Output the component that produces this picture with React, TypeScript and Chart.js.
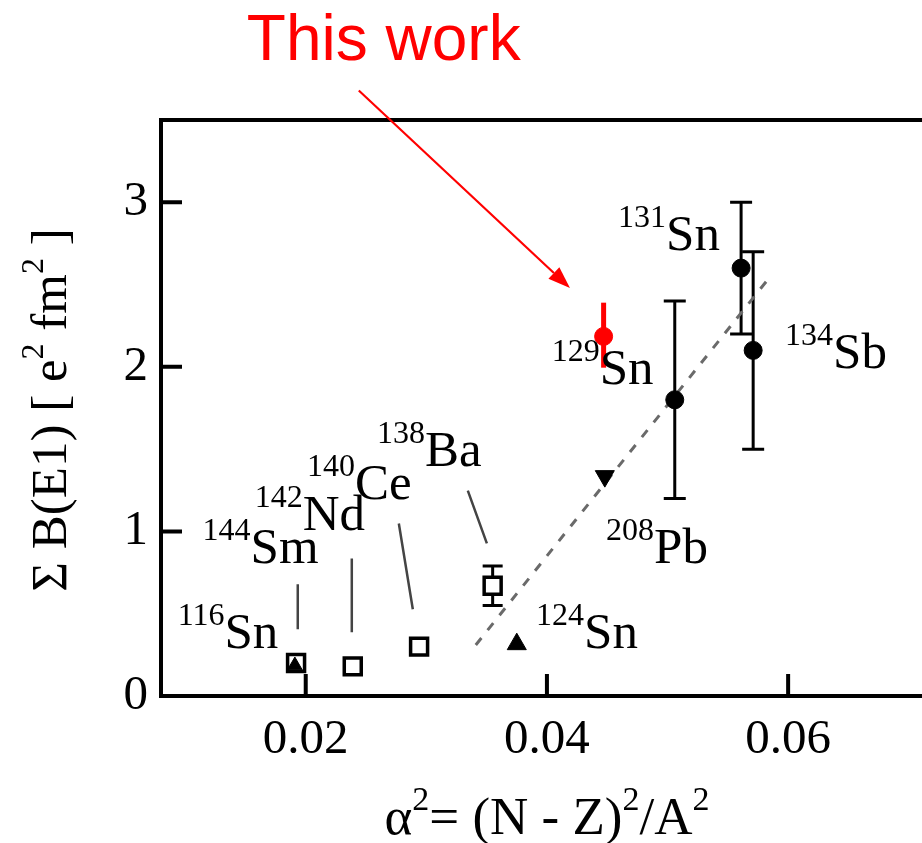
import React, { useEffect, useRef } from "react";
import { Chart, registerables } from "chart.js";

Chart.register(...registerables);

// Axis ranges and tick values
const X_MIN = 0.008;
const X_MAX = 0.0711;
const Y_MIN = 0;
const Y_MAX = 3.5;
const xTickValues = [0.02, 0.04, 0.06];
const yTickValues = [0, 1, 2, 3];

// 129Sn, this work
const thisWorkX = [0.0447];
const thisWorkY = [2.185];
const thisWorkErrUp = [0.205];
const thisWorkErrDown = [0.19];

// Sn / Sb points with error bars
const circleX = [0.0506, 0.0561, 0.0571];
const circleY = [1.8, 2.6, 2.1];
const circleErr = [0.6, 0.4, 0.6];

// N = 82 isotones (open squares)
const squareX = [0.0192, 0.0239, 0.0294, 0.0355];
const squareY = [0.2, 0.18, 0.3, 0.67];
const squareErr = [0, 0, 0, 0.12];

// 116Sn and 124Sn (filled up-triangles)
const upTriX = [0.0191, 0.0375];
const upTriY = [0.185, 0.315];

// 208Pb (filled down-triangle)
const downTriX = [0.0448];
const downTriY = [1.336];

// Linear trend (dashed)
const trendX = [0.0341, 0.0582];
const trendY = [0.31, 2.52];

// Isotope labels: mass number, element, anchor (data units, start of label / main baseline)
const labelMass = ["131", "129", "134", "208", "124", "138", "140", "142", "144", "116"];
const labelElem = ["Sn", "Sn", "Sb", "Pb", "Sn", "Ba", "Ce", "Nd", "Sm", "Sn"];
const labelX = [0.0459, 0.0404, 0.05975, 0.0449, 0.0391, 0.0259, 0.0201, 0.01577, 0.01145, 0.00938];
const labelY = [2.709, 1.897, 1.994, 0.806, 0.291, 1.4, 1.2, 1.006, 0.806, 0.291];

// Leader lines from labels to the square markers
const leaderX1 = [0.01934, 0.02382, 0.02772, 0.03344];
const leaderY1 = [0.679, 0.836, 1.048, 1.248];
const leaderX2 = [0.01934, 0.02382, 0.02888, 0.03502];
const leaderY2 = [0.406, 0.388, 0.527, 0.927];

// "This work" annotation
const noteText = "This work";
const noteX = 0.02647;
const noteY = 3.867;
const arrowFrom = [0.0244, 3.679];
const arrowTo = [0.04191, 2.479];

const SERIF = "'Liberation Serif', 'Times New Roman', serif";
const SANS = "'Liberation Sans', Arial, sans-serif";
const MAIN_FONT = `51px ${SERIF}`;
const SUP_FONT = `32px ${SERIF}`;
const SUP_RISE = 23;

type Part = [string, boolean];

function partsWidth(ctx: CanvasRenderingContext2D, parts: Part[], main = MAIN_FONT, sup = SUP_FONT) {
  let w = 0;
  for (const [t, s] of parts) {
    ctx.font = s ? sup : main;
    w += ctx.measureText(t).width;
  }
  return w;
}

function drawParts(
  ctx: CanvasRenderingContext2D,
  parts: Part[],
  x: number,
  y: number,
  main = MAIN_FONT,
  sup = SUP_FONT,
  rise = SUP_RISE
) {
  let cx = x;
  for (const [t, s] of parts) {
    ctx.font = s ? sup : main;
    ctx.fillText(t, cx, s ? y - rise : y);
    cx += ctx.measureText(t).width;
  }
}

const toPoints = (xs: number[], ys: number[]) => xs.map((x, i) => ({ x, y: ys[i] }));

const figurePlugin = {
  id: "figureDecor",
  beforeDatasetsDraw(chart: any) {
    const { ctx, scales } = chart;
    const sx = scales.x;
    const sy = scales.y;
    const bar = (x: number, lo: number, hi: number, color: string, w: number, cap: number) => {
      const px = sx.getPixelForValue(x);
      const pl = sy.getPixelForValue(lo);
      const ph = sy.getPixelForValue(hi);
      ctx.save();
      ctx.strokeStyle = color;
      ctx.lineWidth = w;
      ctx.beginPath();
      ctx.moveTo(px, pl);
      ctx.lineTo(px, ph);
      if (cap > 0) {
        ctx.moveTo(px - cap, pl);
        ctx.lineTo(px + cap, pl);
        ctx.moveTo(px - cap, ph);
        ctx.lineTo(px + cap, ph);
      }
      ctx.stroke();
      ctx.restore();
    };
    circleX.forEach((x, i) => bar(x, circleY[i] - circleErr[i], circleY[i] + circleErr[i], "#000", 3, 11));
    squareX.forEach((x, i) => {
      if (squareErr[i] > 0) bar(x, squareY[i] - squareErr[i], squareY[i] + squareErr[i], "#000", 3, 10);
    });
    thisWorkX.forEach((x, i) =>
      bar(x, thisWorkY[i] - thisWorkErrDown[i], thisWorkY[i] + thisWorkErrUp[i], "#ff0000", 5, 0)
    );
  },
  afterDraw(chart: any) {
    const { ctx, scales, chartArea } = chart;
    const sx = scales.x;
    const sy = scales.y;
    const { left, right, top, bottom } = chartArea;
    ctx.save();

    // frame (left, bottom, top)
    ctx.strokeStyle = "#000";
    ctx.lineWidth = 4;
    ctx.lineCap = "square";
    ctx.beginPath();
    ctx.moveTo(right + 4, top);
    ctx.lineTo(left, top);
    ctx.lineTo(left, bottom);
    ctx.lineTo(right + 4, bottom);
    ctx.stroke();

    // inward tick marks
    ctx.lineCap = "butt";
    ctx.beginPath();
    xTickValues.forEach((v) => {
      const px = sx.getPixelForValue(v);
      ctx.moveTo(px, bottom);
      ctx.lineTo(px, bottom - 22);
    });
    yTickValues.forEach((v) => {
      const py = sy.getPixelForValue(v);
      ctx.moveTo(left, py);
      ctx.lineTo(left + 21, py);
    });
    ctx.stroke();

    // leader lines
    ctx.strokeStyle = "#444";
    ctx.lineWidth = 2.5;
    ctx.beginPath();
    leaderX1.forEach((x, i) => {
      ctx.moveTo(sx.getPixelForValue(x), sy.getPixelForValue(leaderY1[i]));
      ctx.lineTo(sx.getPixelForValue(leaderX2[i]), sy.getPixelForValue(leaderY2[i]));
    });
    ctx.stroke();

    // isotope labels
    ctx.fillStyle = "#000";
    ctx.textAlign = "left";
    ctx.textBaseline = "alphabetic";
    labelMass.forEach((m, i) => {
      drawParts(
        ctx,
        [
          [m, true],
          [labelElem[i], false],
        ],
        sx.getPixelForValue(labelX[i]),
        sy.getPixelForValue(labelY[i])
      );
    });

    // x-axis title
    const xMain = `53px ${SERIF}`;
    const xSup = `34px ${SERIF}`;
    const xt: Part[] = [
      ["\u03B1", false],
      ["2", true],
      ["= (N - Z)", false],
      ["2", true],
      ["/A", false],
      ["2", true],
    ];
    const xtW = partsWidth(ctx, xt, xMain, xSup);
    drawParts(ctx, xt, 547 - xtW / 2, 834, xMain, xSup, 24);

    // y-axis title
    const yt: Part[] = [
      ["\u03A3 B(E1) [ e", false],
      ["2", true],
      [" fm", false],
      ["2", true],
      [" ]", false],
    ];
    const ytW = partsWidth(ctx, yt);
    ctx.save();
    ctx.translate(66, 410 + ytW / 2);
    ctx.rotate(-Math.PI / 2);
    drawParts(ctx, yt, 0, 0);
    ctx.restore();

    // "This work" note and arrow
    ctx.fillStyle = "#ff0000";
    ctx.strokeStyle = "#ff0000";
    ctx.font = `64px ${SANS}`;
    ctx.textAlign = "center";
    ctx.fillText(noteText, sx.getPixelForValue(noteX), sy.getPixelForValue(noteY));
    const ax = sx.getPixelForValue(arrowFrom[0]);
    const ay = sy.getPixelForValue(arrowFrom[1]);
    const bx = sx.getPixelForValue(arrowTo[0]);
    const by = sy.getPixelForValue(arrowTo[1]);
    const ang = Math.atan2(by - ay, bx - ax);
    const headLen = 22;
    const headHalf = 8;
    const hx = bx - headLen * Math.cos(ang);
    const hy = by - headLen * Math.sin(ang);
    ctx.lineWidth = 2.2;
    ctx.beginPath();
    ctx.moveTo(ax, ay);
    ctx.lineTo(hx, hy);
    ctx.stroke();
    ctx.beginPath();
    ctx.moveTo(bx, by);
    ctx.lineTo(hx - headHalf * Math.sin(ang), hy + headHalf * Math.cos(ang));
    ctx.lineTo(hx + headHalf * Math.sin(ang), hy - headHalf * Math.cos(ang));
    ctx.closePath();
    ctx.fill();

    ctx.restore();
  },
};

export default function App() {
  const canvasRef = useRef<HTMLCanvasElement | null>(null);

  useEffect(() => {
    const canvas = canvasRef.current;
    if (!canvas) return;
    const chart = new Chart(canvas, {
      type: "scatter",
      data: {
        datasets: [
          {
            label: "129Sn (this work)",
            data: toPoints(thisWorkX, thisWorkY),
            pointStyle: "circle",
            pointRadius: 9,
            pointBackgroundColor: "#ff0000",
            pointBorderColor: "#ff0000",
            pointBorderWidth: 1,
          },
          {
            label: "Sn, Sb",
            data: toPoints(circleX, circleY),
            pointStyle: "circle",
            pointRadius: 9,
            pointBackgroundColor: "#000",
            pointBorderColor: "#000",
            pointBorderWidth: 1,
          },
          {
            label: "208Pb",
            data: toPoints(downTriX, downTriY),
            pointStyle: "triangle",
            rotation: 180,
            pointRadius: 11,
            pointBackgroundColor: "#000",
            pointBorderColor: "#000",
            pointBorderWidth: 1,
          },
          {
            label: "116Sn, 124Sn",
            data: toPoints(upTriX, upTriY),
            pointStyle: "triangle",
            pointRadius: [8.5, 11],
            pointBackgroundColor: "#000",
            pointBorderColor: "#000",
            pointBorderWidth: 1,
          },
          {
            label: "N = 82",
            data: toPoints(squareX, squareY),
            pointStyle: "rect",
            pointRadius: 12,
            pointBackgroundColor: "#fff",
            pointBorderColor: "#000",
            pointBorderWidth: 3.5,
          },
          {
            label: "trend",
            data: toPoints(trendX, trendY),
            showLine: true,
            pointRadius: 0,
            borderColor: "#6a6a6a",
            borderWidth: 3,
            borderDash: [9, 10],
          },
        ],
      },
      options: {
        animation: false,
        responsive: false,
        devicePixelRatio: 1,
        layout: { autoPadding: false, padding: { top: 120, right: 0, bottom: 0, left: 0 } },
        plugins: {
          legend: { display: false },
          tooltip: { enabled: false },
        },
        scales: {
          x: {
            type: "linear",
            min: X_MIN,
            max: X_MAX,
            grid: { display: false, drawTicks: false },
            border: { display: false },
            afterBuildTicks: (s: any) => {
              s.ticks = xTickValues.map((value) => ({ value }));
            },
            afterFit: (s: any) => {
              s.height = 147;
            },
            ticks: {
              color: "#000",
              padding: 15,
              maxRotation: 0,
              font: { family: SERIF, size: 49 },
              callback: (v: any) => Number(v).toFixed(2),
            },
          },
          y: {
            type: "linear",
            min: Y_MIN,
            max: Y_MAX,
            grid: { display: false, drawTicks: false },
            border: { display: false },
            afterBuildTicks: (s: any) => {
              s.ticks = yTickValues.map((value) => ({ value }));
            },
            afterFit: (s: any) => {
              s.width = 161;
            },
            ticks: {
              color: "#000",
              padding: 13,
              font: { family: SERIF, size: 49 },
              callback: (v: any) => String(v),
            },
          },
        },
      },
      plugins: [figurePlugin],
    });
    return () => chart.destroy();
  }, []);

  return (
    <div style={{ position: "absolute", left: 0, top: 0, width: 922, height: 843, background: "#fff" }}>
      <canvas ref={canvasRef} width={922} height={843} style={{ display: "block" }} />
    </div>
  );
}
